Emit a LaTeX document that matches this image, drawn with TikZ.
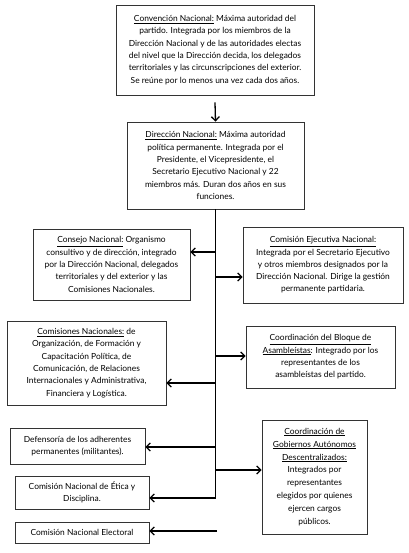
\documentclass[tikz,border=0pt]{standalone}
\usepackage{fontspec}
\setmainfont{Lato}
\usetikzlibrary{arrows.meta}
\tikzset{
  box/.style={draw=black!80, line width=0.8pt, fill=white, inner sep=0pt, align=center,
    font=\fontsize{8.4}{12.3}\selectfont},
  arr/.style={line width=1.3pt, -{Straight Barb[length=4pt,width=8pt,line width=1.3pt]}},
  trunk/.style={line width=1.3pt}
}
\begin{document}
\begin{tikzpicture}[x=1pt,y=-1pt]
\useasboundingbox (0,0) rectangle (408,553);
\node[box, minimum width=198pt, minimum height=90pt] (conv) at (215,50)
 {\underline{Convención Nacional:} Máxima autoridad del\\
  partido. Integrada por los miembros de la\\
  Dirección Nacional y de las autoridades electas\\
  del nivel que la Dirección decida, los delegados\\
  territoriales y las circunscripciones del exterior.\\
  Se reúne por lo menos una vez cada dos años.};
\node[box, minimum width=177pt, minimum height=87pt] (dir) at (215.5,165.5)
 {\underline{Dirección Nacional:} Máxima autoridad\\
  política permanente. Integrada por el\\
  Presidente, el Vicepresidente, el\\
  Secretario Ejecutivo Nacional y 22\\
  miembros más. Duran dos años en sus\\
  funciones.};
\node[box, minimum width=157pt, minimum height=71pt] (cons) at (111.5,264.5)
 {\underline{Consejo Nacional:} Organismo\\
  consultivo y de dirección, integrado\\
  por la Dirección Nacional, delegados\\
  territoriales y del exterior y las\\
  Comisiones Nacionales.};
\node[box, minimum width=160pt, minimum height=76pt] (ejec) at (323,265)
 {\underline{Comisión Ejecutiva Nacional:}\\
  Integrada por el Secretario Ejecutivo\\
  y otros miembros designados por la\\
  Dirección Nacional. Dirige la gestión\\
  permanente partidaria.};
\node[box, minimum width=159pt, minimum height=84pt] (comis) at (86.5,363)
 {\underline{Comisiones Nacionales:} de\\
  Organización, de Formación y\\
  Capacitación Política, de\\
  Comunicación, de Relaciones\\
  Internacionales y Administrativa,\\
  Financiera y Logística.};
\node[box, minimum width=149pt, minimum height=62pt] (bloq) at (320.5,357)
 {\underline{Coordinación del Bloque de}\\
  \underline{Asambleístas}: Integrado por los\\
  representantes de los\\
  asambleístas del partido.};
\node[box, minimum width=135pt, minimum height=36pt] (def) at (77.5,446)
 {Defensoría de los adherentes\\ permanentes (militantes).};
\node[box, minimum width=134pt, minimum height=33pt] (etica) at (82,492.5)
 {Comisión Nacional de Ética y\\ Disciplina.};
\node[box, minimum width=134pt, minimum height=21pt] (elec) at (82,532.5)
 {Comisión Nacional Electoral};
\node[box, minimum width=105pt, minimum height=114pt, font=\fontsize{8.4}{12.9}\selectfont] (gob) at (314.5,477)
 {\underline{Coordinación de}\\
  \underline{Gobiernos Autónomos}\\
  \underline{Descentralizados:}\\
  Integrados por\\
  representantes\\
  elegidos por quienes\\
  ejercen cargos\\
  públicos.};
% connectors
\draw[arr] ([yshift=-7pt]conv.south) -- (dir.north);
\coordinate (tend) at (dir.south |- 0,498);
\draw[trunk] (dir.south) -- (tend);
\draw[arr] (dir.south |- 0,252) -- (cons.east |- 0,252);
\draw[arr] (dir.south |- 0,277) -- (ejec.west |- 0,277);
\draw[arr] (dir.south |- 0,356) -- (bloq.west |- 0,356);
\draw[arr] (dir.south |- 0,383) -- (comis.east |- 0,383);
\draw[arr] (dir.south |- 0,447) -- (def.east |- 0,447);
\draw[arr] (dir.south |- 0,470) -- (gob.west |- 0,470);
\draw[arr] (tend) -- (etica.east |- tend);
\coordinate (estart) at (217,531);
\draw[arr] (estart) -- (elec.east |- estart);
\end{tikzpicture}
\end{document}
